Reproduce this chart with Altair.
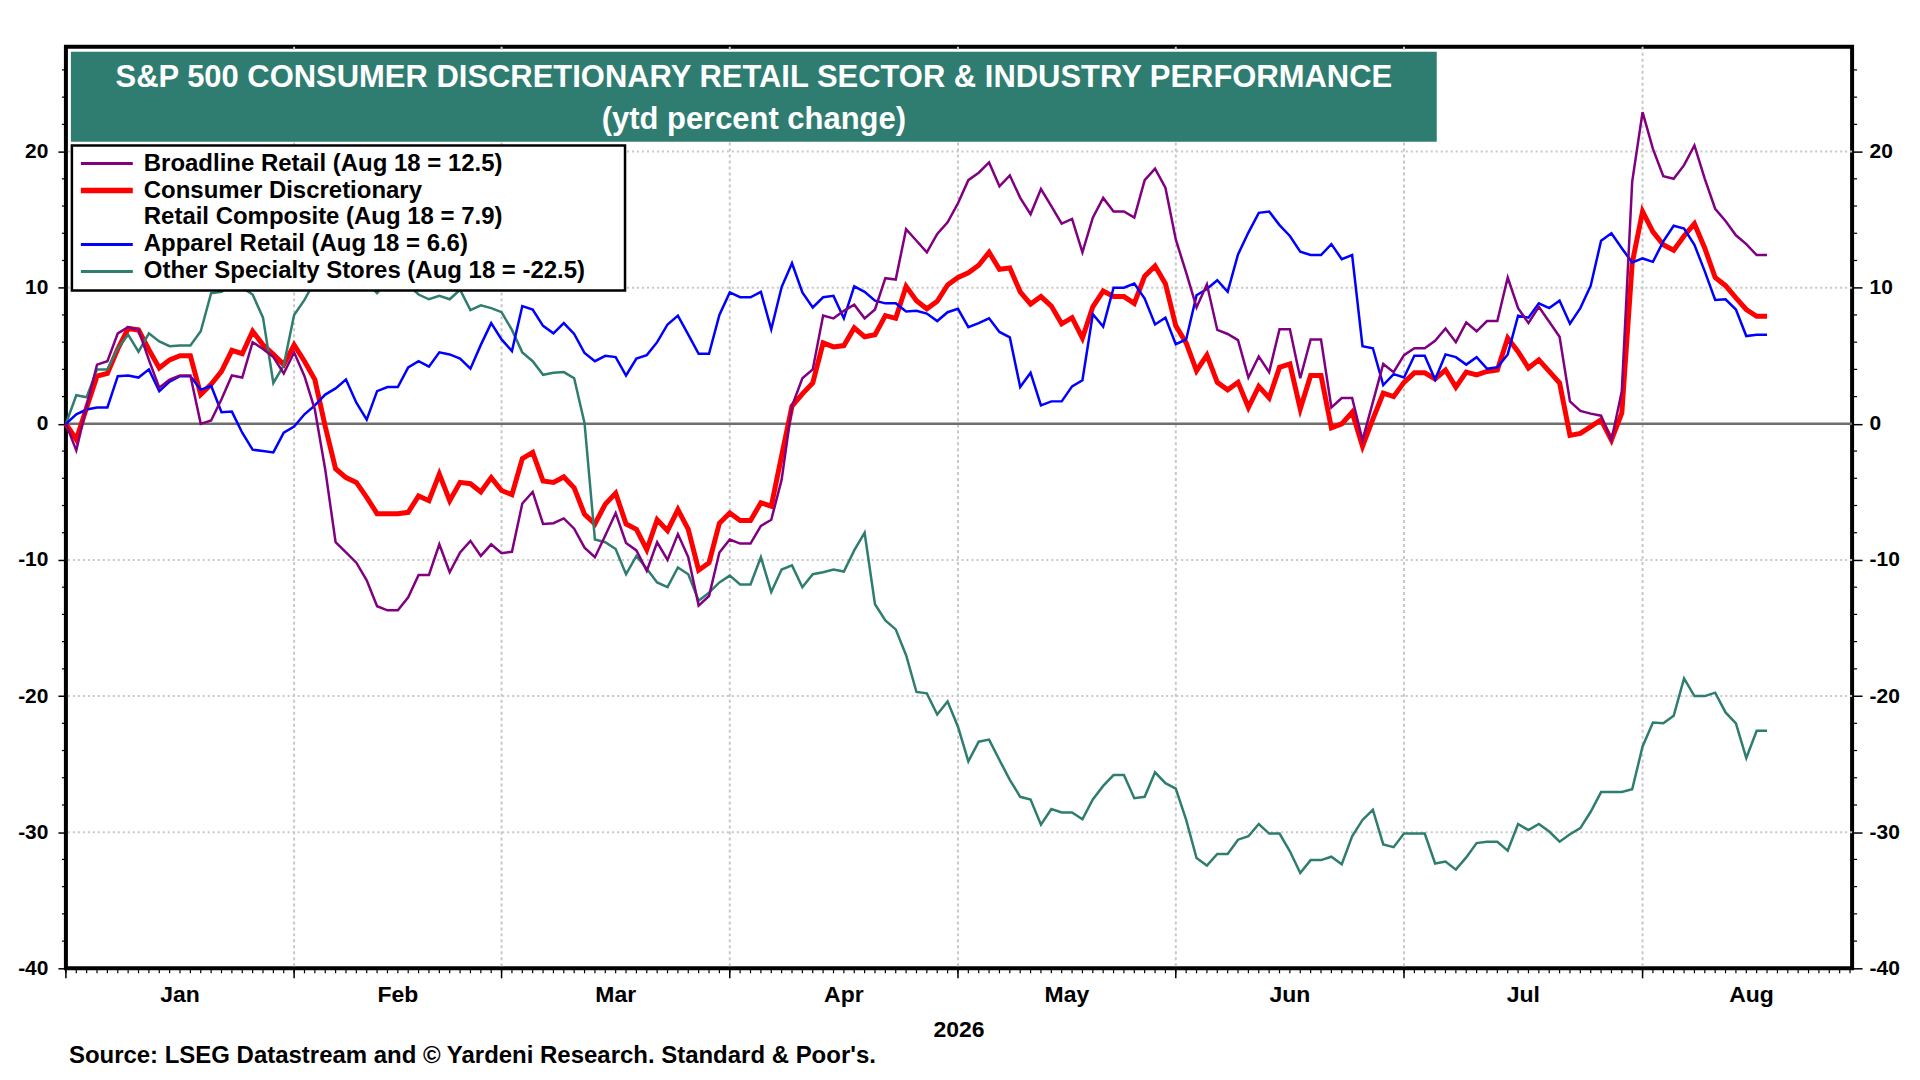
import altair as alt
import pandas as pd

# ytd percent change, one value per weekday: index 0 = Dec 31 2025 ... 164 = Aug 18 2026
broadline = [
    0, -1.95, 1.3, 4.35, 4.6, 6.65, 7.1, 6.9, 4.7, 2.65,
    3.25, 3.55, 3.55, 0.0, 0.25, 1.8, 3.55, 3.4, 6.0, 5.5,
    4.9, 3.7, 5.25, 3.5, 1.05, -3.35, -8.7, -9.45, -10.2, -11.5,
    -13.4, -13.7, -13.7, -12.75, -11.1, -11.1, -8.85, -10.9, -9.45, -8.6,
    -9.7, -8.85, -9.5, -9.4, -5.85, -5.0, -7.35, -7.3, -6.95, -7.7,
    -9.1, -9.8, -8.2, -6.55, -8.75, -9.3, -10.8, -8.7, -10.0, -8.1,
    -9.8, -13.35, -12.65, -9.45, -8.5, -8.8, -8.8, -7.5, -7.05, -4.1,
    1.3, 3.35, 4.0, 7.95, 7.75, 8.3, 8.75, 7.75, 8.4, 10.7,
    10.6, 14.3, 13.45, 12.6, 13.95, 14.8, 16.2, 17.9, 18.45, 19.2,
    17.45, 18.25, 16.6, 15.4, 17.25, 16.0, 14.7, 15.05, 12.6, 15.15,
    16.6, 15.6, 15.6, 15.15, 17.9, 18.75, 17.35, 13.55, 11.1, 8.55,
    10.25, 6.9, 6.6, 6.15, 3.4, 4.95, 3.8, 6.95, 6.95, 3.35,
    6.2, 6.2, 1.2, 1.9, 1.9, -1.2, 1.6, 4.4, 3.8, 5.05,
    5.55, 5.55, 6.1, 7.0, 6.0, 7.45, 6.8, 7.55, 7.55, 10.75,
    8.5, 7.4, 8.6, 7.5, 6.4, 1.65, 0.95, 0.75, 0.6, -1.2,
    2.4, 17.8, 22.9, 20.2, 18.2, 18.0, 19.0, 20.45, 18.0, 15.8,
    14.9, 13.85, 13.2, 12.4, 12.4,
]
composite = [
    0, -1.15, 1.2, 3.5, 3.7, 5.5, 7.0, 6.9, 5.45, 4.1,
    4.7, 5.0, 5.0, 2.15, 2.9, 3.85, 5.4, 5.15, 6.8, 5.8,
    5.1, 4.35, 5.8, 4.6, 3.25, -0.2, -3.3, -3.95, -4.3, -5.4,
    -6.6, -6.6, -6.6, -6.5, -5.3, -5.65, -3.7, -5.65, -4.3, -4.4,
    -5.0, -3.95, -4.9, -5.2, -2.55, -2.1, -4.2, -4.3, -3.9, -4.7,
    -6.65, -7.35, -5.9, -5.1, -7.35, -7.75, -9.25, -7.05, -7.85, -6.3,
    -7.75, -10.75, -10.2, -7.3, -6.55, -7.1, -7.1, -5.8, -6.05, -2.35,
    1.3, 2.2, 3.0, 5.95, 5.65, 5.75, 7.05, 6.4, 6.55, 7.95,
    7.75, 10.1, 9.05, 8.45, 9.0, 10.2, 10.75, 11.1, 11.65, 12.6,
    11.35, 11.45, 9.7, 8.8, 9.35, 8.65, 7.35, 7.8, 6.3, 8.6,
    9.75, 9.35, 9.35, 8.85, 10.85, 11.6, 10.3, 7.2, 5.95, 3.9,
    5.05, 3.05, 2.5, 3.05, 1.2, 2.75, 1.9, 4.15, 4.4, 1.1,
    3.55, 3.55, -0.3, 0.0, 0.85, -1.65, 0.35, 2.25, 2.0, 3.05,
    3.75, 3.75, 3.3, 3.95, 2.7, 3.8, 3.6, 3.85, 3.95, 6.3,
    5.3, 4.1, 4.7, 3.85, 3.0, -0.85, -0.7, -0.2, 0.3, -1.2,
    0.8, 11.8, 15.6, 14.1, 13.15, 12.75, 13.8, 14.7, 12.9, 10.75,
    10.15, 9.25, 8.4, 7.9, 7.9,
]
apparel = [
    0, 0.7, 1.05, 1.2, 1.2, 3.5, 3.55, 3.4, 4.0, 2.4,
    3.1, 3.5, 3.5, 2.5, 2.8, 0.85, 0.9, -0.65, -1.9, -2.0,
    -2.1, -0.65, -0.2, 0.7, 1.35, 2.15, 2.6, 3.25, 1.55, 0.3,
    2.4, 2.7, 2.7, 4.15, 4.6, 4.2, 5.25, 5.1, 4.8, 4.05,
    5.8, 7.4, 6.2, 5.35, 8.65, 8.4, 7.2, 6.65, 7.4, 6.6,
    5.2, 4.6, 5.0, 4.9, 3.55, 4.8, 5.05, 6.0, 7.3, 7.95,
    6.55, 5.15, 5.15, 8.0, 9.65, 9.3, 9.3, 9.7, 6.95, 10.05,
    11.8, 9.65, 8.55, 9.3, 9.4, 7.75, 10.1, 9.7, 9.05, 8.85,
    8.85, 8.25, 8.3, 8.1, 7.55, 8.2, 8.45, 7.1, 7.4, 7.75,
    6.75, 6.35, 2.7, 3.75, 1.35, 1.65, 1.65, 2.75, 3.2, 8.05,
    7.15, 10.0, 10.0, 10.3, 9.2, 7.3, 7.8, 5.85, 6.2, 9.45,
    9.9, 10.55, 9.7, 12.45, 14.05, 15.5, 15.6, 14.6, 13.8, 12.65,
    12.4, 12.4, 13.2, 12.1, 12.4, 5.7, 5.55, 2.85, 3.65, 3.4,
    5.0, 5.0, 3.25, 5.1, 4.9, 4.35, 4.9, 4.05, 4.15, 5.1,
    7.95, 7.8, 8.85, 8.5, 9.05, 7.35, 8.5, 10.15, 13.45, 14.0,
    12.9, 11.85, 12.15, 11.9, 13.4, 14.55, 14.35, 13.15, 11.2, 9.1,
    9.15, 8.4, 6.45, 6.55, 6.55,
]
specialty = [
    0, 2.1, 1.95, 4.0, 4.0, 5.55, 6.55, 5.3, 6.65, 6.05,
    5.7, 5.75, 5.75, 6.8, 9.6, 9.7, 10.2, 10.0, 9.5, 7.8,
    3.0, 4.3, 8.0, 9.1, 10.5, 10.8, 11.0, 10.6, 10.9, 10.4,
    9.6, 10.5, 10.8, 10.2, 9.5, 9.15, 9.4, 9.15, 9.85, 8.35,
    8.7, 8.5, 8.2, 6.9, 5.25, 4.6, 3.6, 3.75, 3.8, 3.35,
    0.05, -8.5, -8.7, -9.2, -11.05, -9.7, -10.65, -11.65, -12.0, -10.55,
    -11.05, -13.0, -12.4, -11.65, -11.15, -11.8, -11.8, -9.8, -12.35, -10.7,
    -10.4, -12.0, -11.05, -10.9, -10.7, -10.85, -9.3, -8.0, -13.25, -14.45,
    -15.1, -17.0, -19.7, -19.8, -21.35, -20.4, -22.25, -24.8, -23.35, -23.2,
    -24.7, -26.15, -27.4, -27.6, -29.45, -28.3, -28.55, -28.55, -29.05, -27.6,
    -26.6, -25.8, -25.8, -27.5, -27.4, -25.6, -26.4, -26.8, -29.1, -31.9,
    -32.45, -31.6, -31.6, -30.55, -30.3, -29.4, -30.1, -30.1, -31.4, -33.0,
    -32.05, -32.05, -31.8, -32.35, -30.3, -29.1, -28.35, -30.9, -31.1, -30.1,
    -30.1, -30.1, -32.3, -32.15, -32.75, -31.85, -30.8, -30.7, -30.7, -31.35,
    -29.4, -29.85, -29.4, -29.95, -30.7, -30.15, -29.7, -28.5, -27.05, -27.05,
    -27.05, -26.85, -23.7, -21.95, -22.0, -21.45, -18.7, -20.0, -20.0, -19.75,
    -21.2, -22.0, -24.55, -22.55, -22.55,
]

series_names = ["Broadline Retail", "Consumer Discretionary Retail Composite",
                "Apparel Retail", "Other Specialty Stores"]
series_colors = ["#800080", "#ff0000", "#0000ff", "#2e7d6e"]
series_widths = [2.5, 5, 2.5, 2.5]
legend_lines = [
    ["Broadline Retail (Aug 18 = 12.5)"],
    ["Consumer Discretionary", "Retail Composite (Aug 18 = 7.9)"],
    ["Apparel Retail (Aug 18 = 6.6)"],
    ["Other Specialty Stores (Aug 18 = -22.5)"],
]

month_names = ["Jan", "Feb", "Mar", "Apr", "May", "Jun", "Jul", "Aug"]
month_ends = [0, 22, 42, 64, 86, 107, 129, 152, 173]  # weekday index of month ends
y_labels = [-40, -30, -20, -10, 0, 10, 20]
y_grid = [-30, -20, -10, 10, 20]

title_lines = ["S&P 500 CONSUMER DISCRETIONARY RETAIL SECTOR & INDUSTRY PERFORMANCE",
               "(ytd percent change)"]
source = "Source: LSEG Datastream and \u00a9 Yardeni Research. Standard & Poor's."

W, H = 1789, 923
FONT = "Liberation Sans"
TEAL = "#2f7d71"

dates = pd.bdate_range("2025-12-31", "2026-08-18")
values = [broadline, composite, apparel, specialty]
frames = {
    name: pd.DataFrame({"date": dates, "idx": range(len(dates)), "value": v})
    for name, v in zip(series_names, values)
}

xscale = alt.Scale(domain=[0, 172.2], nice=False, zero=False)
yscale = alt.Scale(domain=[-40, 27.7], nice=False, zero=False)


def y_axis(orient, tick, pad):
    return alt.Axis(
        orient=orient, values=y_labels, labelExpr="'' + datum.value",
        tickSize=tick, tickWidth=1.5, tickColor="black",
        labelFont=FONT, labelFontSize=21, labelFontWeight="bold",
        labelColor="black", labelPadding=pad,
        domain=False, grid=False, title=None,
    )


one = pd.DataFrame({"a": [0]})

hgrid = alt.Chart(pd.DataFrame({"v": y_grid})).mark_rule(
    color="#c8c8c8", strokeWidth=2, strokeDash=[2, 3]
).encode(alt.Y("v:Q", scale=yscale, axis=y_axis("right", 10, 7)))

vgrid = alt.Chart(pd.DataFrame({"m": month_ends[1:-1]})).mark_rule(
    color="#c8c8c8", strokeWidth=2, strokeDash=[3, 3]
).encode(alt.X("m:Q", scale=xscale, axis=None))

zero = alt.Chart(pd.DataFrame({"v": [0]})).mark_rule(
    color="#6e6e6e", strokeWidth=2.5
).encode(alt.Y("v:Q", scale=yscale, axis=None))

lines = []
for k in [1, 3, 2, 0]:
    name = series_names[k]
    lines.append(
        alt.Chart(frames[name]).mark_line(
            color=series_colors[k], strokeWidth=series_widths[k], strokeJoin="miter"
        ).encode(
            alt.X("idx:Q", scale=xscale, axis=None),
            alt.Y("value:Q", scale=yscale,
                  axis=y_axis("left", 8, 10) if k == 1 else None),
            tooltip=[alt.Tooltip("date:T"), alt.Tooltip("value:Q")],
        )
    )

minor_x = alt.Chart(pd.DataFrame({"t": list(range(173))})).mark_rule(
    color="black", strokeWidth=1.2
).encode(alt.X("t:Q", scale=xscale, axis=None), y=alt.value(H), y2=alt.value(H + 5))

major_x = alt.Chart(pd.DataFrame({"t": month_ends[:-1]})).mark_rule(
    color="black", strokeWidth=1.5
).encode(alt.X("t:Q", scale=xscale, axis=None), y=alt.value(H), y2=alt.value(H + 10))

minor_y = [v for v in range(-38, 28, 2) if v % 10 != 0]
ticks_left = alt.Chart(pd.DataFrame({"v": minor_y})).mark_rule(
    color="black", strokeWidth=1.2
).encode(alt.Y("v:Q", scale=yscale, axis=None), x=alt.value(-4), x2=alt.value(0))
ticks_right = alt.Chart(pd.DataFrame({"v": minor_y})).mark_rule(
    color="black", strokeWidth=1.2
).encode(alt.Y("v:Q", scale=yscale, axis=None), x=alt.value(W), x2=alt.value(W + 5))

mids = [(a + b) / 2 for a, b in zip(month_ends[:-1], month_ends[1:])]
month_text = alt.Chart(pd.DataFrame({"pos": mids, "name": month_names})).mark_text(
    font=FONT, fontSize=23, fontWeight="bold", color="black", baseline="middle"
).encode(alt.X("pos:Q", scale=xscale, axis=None), y=alt.value(H + 27), text="name:N")

year_text = alt.Chart(pd.DataFrame({"t": ["2026"]})).mark_text(
    font=FONT, fontSize=23, fontWeight="bold", color="black", baseline="middle"
).encode(x=alt.value(W / 2), y=alt.value(H + 62), text="t:N")

source_text = alt.Chart(pd.DataFrame({"t": [source]})).mark_text(
    font=FONT, fontSize=24, fontWeight="bold", color="black",
    align="left", baseline="middle"
).encode(x=alt.value(3), y=alt.value(H + 88), text="t:N")

title_box = alt.Chart(one).mark_rect(color=TEAL).encode(
    x=alt.value(5), x2=alt.value(1373), y=alt.value(5), y2=alt.value(95)
)
title_text = [
    alt.Chart(pd.DataFrame({"t": [line]})).mark_text(
        font=FONT, fontSize=31, fontWeight="bold", color="white", baseline="middle"
    ).encode(x=alt.value(689), y=alt.value(yy), text="t:N")
    for line, yy in zip(title_lines, [31, 73])
]

legend_box = alt.Chart(one).mark_rect(
    fill="white", stroke="black", strokeWidth=2.5
).encode(x=alt.value(6), x2=alt.value(560), y=alt.value(99), y2=alt.value(244))

legend_layers = []
row_y = 117
for k, texts in enumerate(legend_lines):
    legend_layers.append(
        alt.Chart(one).mark_rule(
            color=series_colors[k], strokeWidth=series_widths[k] + 0.5
        ).encode(x=alt.value(15), x2=alt.value(67), y=alt.value(row_y))
    )
    for t in texts:
        legend_layers.append(
            alt.Chart(pd.DataFrame({"t": [t]})).mark_text(
                font=FONT, fontSize=24, fontWeight="bold", color="black",
                align="left", baseline="middle"
            ).encode(x=alt.value(78), y=alt.value(row_y), text="t:N")
        )
        row_y += 27

chart = alt.layer(
    hgrid, vgrid, zero, *lines, minor_x, major_x, ticks_left, ticks_right,
    month_text, year_text, source_text, title_box, *title_text,
    legend_box, *legend_layers,
).resolve_axis(y="independent").properties(
    width=W, height=H,
    autosize=alt.AutoSizeParams(type="none"),
    padding={"left": 58, "top": 38, "right": 60, "bottom": 100},
).configure_view(stroke="black", strokeWidth=4)

chart.save("out.html", embed_options={"renderer": "svg", "actions": False})
